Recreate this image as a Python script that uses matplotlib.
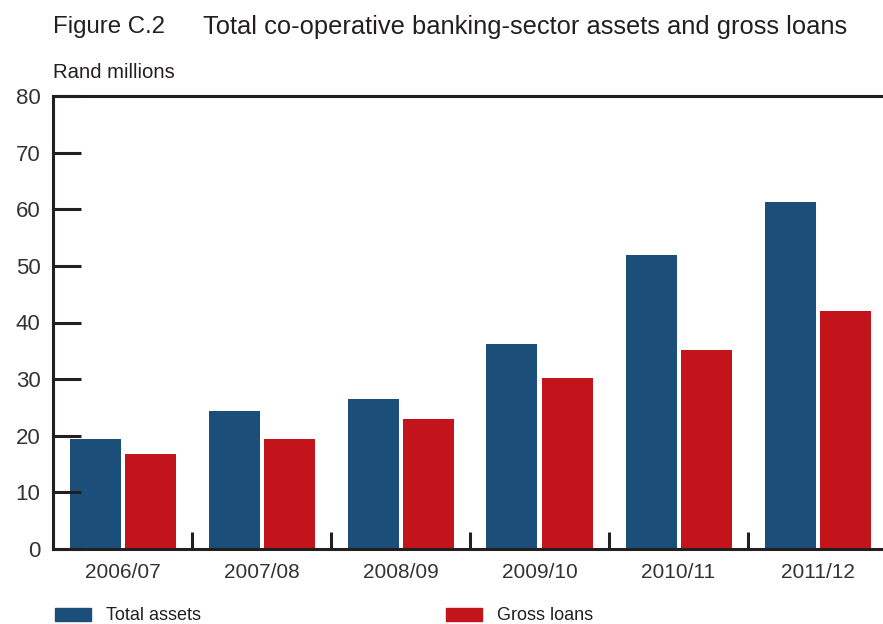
import matplotlib
matplotlib.use("Agg")
import matplotlib.pyplot as plt
import numpy as np
from matplotlib.patches import Rectangle

plt.rcParams["font.family"] = ["Liberation Sans", "DejaVu Sans"]

# Co-operative banking sector, Rand millions
years = ["2006/07", "2007/08", "2008/09", "2009/10", "2010/11", "2011/12"]
total_assets = [19.4, 24.4, 26.5, 36.2, 51.9, 61.3]
gross_loans = [16.8, 19.4, 23.0, 30.2, 35.1, 42.0]
y_ticks = [0, 10, 20, 30, 40, 50, 60, 70, 80]

BLUE = "#1b4f79"
RED = "#c3141c"
INK = "#231f20"

fig = plt.figure(figsize=(8.83, 6.24), dpi=100)
ax = fig.add_axes([53 / 883, 75 / 624, 830 / 883, 453 / 624])

x = np.arange(len(years))
bar_w = 51 / 139
gap = 4 / 139
ax.bar(x - gap / 2 - bar_w / 2, total_assets, width=bar_w, color=BLUE)
ax.bar(x + gap / 2 + bar_w / 2, gross_loans, width=bar_w, color=RED)

ax.set_xlim(-0.5, -0.5 + 830 / 139)
ax.set_ylim(0, 80)

for side in ["left", "bottom", "top"]:
    ax.spines[side].set_linewidth(2.2)
    ax.spines[side].set_color(INK)
ax.spines["right"].set_visible(False)

ax.set_yticks(y_ticks)
ax.set_yticklabels([str(v) for v in y_ticks])
ax.tick_params(axis="y", direction="in", length=20, width=2.2, color=INK,
               labelsize=16, labelcolor="#333333", pad=9)

# category labels without ticks; separator ticks between groups
ax.set_xticks(x)
ax.set_xticklabels(years)
ax.tick_params(axis="x", length=0, labelsize=15, labelcolor="#333333", pad=10)
ax.set_xticks(x[:-1] + 0.5, minor=True)
ax.tick_params(axis="x", which="minor", direction="in", length=12, width=2.2,
               color=INK)

fig.text(53 / 883, 1 - 27 / 624, "Figure C.2", fontsize=17.3, color=INK,
         va="center", ha="left")
fig.text(203 / 883, 1 - 27 / 624,
         "Total co-operative banking-sector assets and gross loans",
         fontsize=18.4, color=INK, va="center", ha="left")
fig.text(53 / 883, 1 - 72 / 624, "Rand millions", fontsize=14.6, color=INK,
         va="center", ha="left")

# legend drawn by hand along the bottom
for x0, color, label in [(55, BLUE, "Total assets"), (446, RED, "Gross loans")]:
    fig.add_artist(Rectangle((x0 / 883, 1 - 621 / 624), 36 / 883, 13 / 624,
                             transform=fig.transFigure, color=color))
    fig.text((x0 + 51) / 883, 1 - 616 / 624, label, fontsize=13, color=INK,
             va="center", ha="left")

fig.savefig("out.png", dpi=100, facecolor="white")
